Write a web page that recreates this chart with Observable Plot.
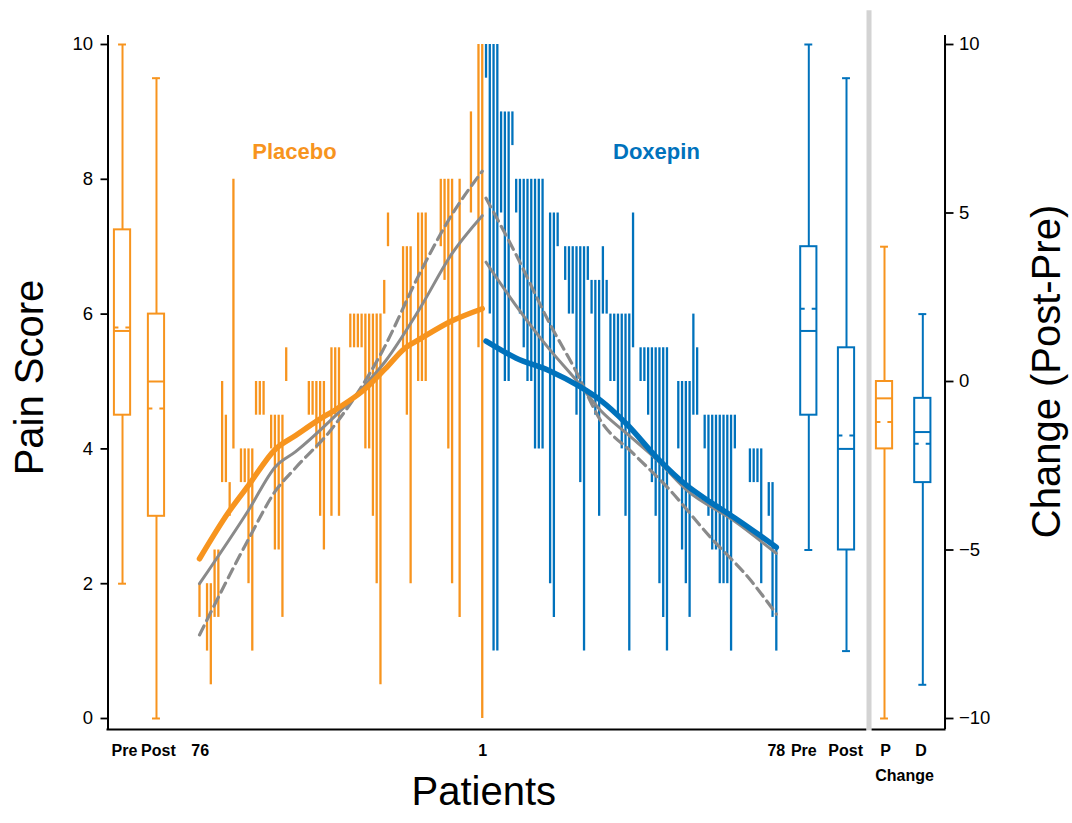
<!DOCTYPE html>
<html><head><meta charset="utf-8">
<script src="https://cdn.jsdelivr.net/npm/d3@7"></script>
<script src="https://cdn.jsdelivr.net/npm/@observablehq/plot@0.6"></script>
<style>body{margin:0;background:#fff;} #chart svg{display:block;}</style>
</head><body><div id="chart"></div>
<script>
// ---------- DATA ----------
// Placebo patients, left to right (patient 76 ... patient 1); higher and lower score of each patient
const placeboHi = [2.0, null, 2.0, 2.0, 2.5, 2.5, 5.0, 4.5, 3.5, 8.0, null, 4.0, 4.0, 4.0, 4.0, 5.0, 5.0, 5.0, null, 4.5,
  4.5, 4.5, 4.5, 5.5, null, null, null, null, null, 5.0, 5.0, 5.0, 5.0, 5.0, null, 5.5, 5.5, 5.5, null, null,
  6.0, 6.0, 6.0, 6.0, 6.0, 6.0, 6.0, 6.0, 6.0, 6.5, 7.5, null, null, null, 7.0, 7.0, 7.0, null, 7.5, 7.5,
  7.5, null, null, null, 8.0, 8.0, 8.0, 8.0, null, 8.0, null, null, 9.0, null, 10, 10];
const placeboLo = [1.5, null, 1.0, 0.5, 1.5, 1.5, 3.5, 3.5, 3.0, 4.0, null, 3.5, 3.5, 2.0, 1.0, 4.5, 4.5, 4.5, null, 4.0,
  2.5, 2.5, 1.5, 5.0, null, null, null, null, null, 4.5, 4.5, 4.0, 3.0, 2.5, null, 3.0, 4.5, 3.0, null, null,
  5.5, 5.5, 5.5, 5.5, 4.0, 4.0, 3.0, 2.0, 0.5, 6.0, 7.0, null, null, null, 5.5, 4.5, 2.0, null, 5.0, 5.0,
  5.0, null, null, null, 7.0, 6.5, 4.0, 2.0, null, 1.5, null, null, 7.5, null, 5.5, 0];
// Doxepin patients, left to right (patient 1 ... patient 78)
const doxepinHi = [10, 10, 10, 10, 9.0, 9.0, 9.0, 9.0, 8.0, 8.0, 8.0, 8.0, 8.0, 8.0, 8.0, 8.0, null, 7.5, 7.5, 7.5,
  null, 7.0, 7.0, 7.0, 7.0, 7.0, 7.0, 7.0, 6.5, 6.5, 6.5, 7.0, 6.5, 6.0, 6.0, 6.0, 6.0, 6.0, 6.0, 7.5,
  null, 5.5, 5.5, 5.5, 5.5, 5.5, 5.5, 5.5, 5.5, null, null, 5.0, 5.0, 5.0, 5.0, 6.0, 5.5, null, 4.5, 4.5,
  4.5, 4.5, 4.5, 4.5, 4.5, 4.5, 4.5, null, null, null, 4.0, 4.0, 4.0, 4.0, null, 3.5, 3.5, 2.5];
const doxepinLo = [9.5, 6.0, 1.0, 1.0, 7.5, 5.0, 5.0, 8.5, 7.5, 6.0, 5.5, 5.0, 5.0, 4.0, 4.0, 4.0, null, 2.0, 1.5, 7.0,
  null, 6.5, 6.0, 6.0, 4.5, 3.5, 1.0, 6.5, 6.0, 4.5, 3.0, 6.0, 6.0, 5.0, 5.0, 4.5, 4.0, 3.0, 1.0, 5.5,
  null, 5.0, 5.0, 4.5, 3.5, 3.0, 2.0, 1.5, 1.0, null, null, 4.0, 2.5, 2.0, 1.5, 4.5, 4.5, null, 4.0, 3.0,
  2.5, 2.5, 2.0, 2.0, 2.0, 1.0, 4.0, null, null, null, 3.5, 3.5, 3.5, 2.0, null, 3.0, 1.5, 1.0];

// Fitted curves (patient position within group, score)
const placeboFitPos = [0, 7.7, 13, 20.2, 25.5, 31.3, 36.6, 43.5, 49.3, 54.6, 58.2, 67, 75];
const placeboFitVal = [2.37, 3.06, 3.46, 4.0, 4.2, 4.42, 4.6, 4.87, 5.19, 5.5, 5.62, 5.9, 6.08];
const placeboGrayPos = [0, 13, 20.2, 25.5, 34.7, 43.5, 49.3, 58.2, 67, 75];
const placeboGrayVal = [2.0, 3.09, 3.74, 3.96, 4.42, 4.92, 5.3, 6.06, 6.9, 7.46];
const placeboDashPos = [0, 13, 20.2, 25.5, 34.7, 48.5, 58.2, 67, 75];
const placeboDashVal = [1.24, 2.66, 3.38, 3.72, 4.27, 5.45, 6.58, 7.48, 8.12];
const doxepinFitPos = [0, 7.9, 16.8, 24.7, 30.4, 37.3, 45.5, 53.4, 59.5, 65.6, 72.8, 77];
const doxepinFitVal = [5.6, 5.35, 5.16, 4.93, 4.72, 4.37, 3.86, 3.45, 3.21, 2.99, 2.71, 2.54];
const doxepinGrayPos = [0, 7.9, 16.8, 23.8, 30.4, 37.3, 45.5, 53.4, 65.6, 77];
const doxepinGrayVal = [6.77, 6.13, 5.48, 5.03, 4.57, 4.23, 3.83, 3.38, 2.94, 2.45];
const doxepinDashPos = [0, 7.9, 16.8, 23.8, 30.4, 39.1, 48.1, 59.5, 70.2, 77];
const doxepinDashVal = [7.72, 6.89, 5.87, 5.16, 4.42, 3.93, 3.43, 2.69, 2.05, 1.55];

// Box plot statistics (pain score)
const boxGroups = ["Placebo Pre", "Placebo Post", "Doxepin Pre", "Doxepin Post"];
const boxMin = [2, 0, 2.5, 1];
const boxQ1 = [4.5, 3, 4.5, 2.5];
const boxMed = [5.75, 5, 5.75, 4];
const boxQ3 = [7.25, 6, 7, 5.5];
const boxMax = [10, 9.5, 10, 9.5];
const boxMean = [5.8, 4.6, 6.08, 4.2];
// Box plot statistics (change Post-Pre)
const changeGroups = ["P", "D"];
const changeMin = [-10, -9];
const changeQ1 = [-2, -3];
const changeMed = [-0.5, -1.5];
const changeQ3 = [0, -0.5];
const changeMax = [4, 2];
const changeMean = [-1.2, -1.85];

// Labels
const painTicks = [0, 2, 4, 6, 8, 10];
const changeTicks = [-10, -5, 0, 5, 10];
const groupNames = ["Placebo", "Doxepin"];
const bottomLabels = ["Pre", "Post", "76", "1", "78", "Pre", "Post", "P", "D"];
const changeLabel = ["Change"];
const axisTitles = {y: "Pain Score", y2: "Change (Post-Pre)", x: "Patients"};

// ---------- LAYOUT ----------
const ORANGE = "#F7941E", BLUE = "#0072BC", GRAY = "#8a8a8a";
const SLOT_PX = 3.77, X_START = 199;
const DOX_OFFSET = 76;
const boxPos = [-20.42, -11.41, 161.62, 171.62];
const boxColors = [ORANGE, ORANGE, BLUE, BLUE];
const changePos = [181.7, 191.86];
const changeColors = [ORANGE, BLUE];
const groupColors = [ORANGE, BLUE];
const HW = 2.15, CAP = 1.05;
const X_LEFT = -24.27, X_RIGHT = 197.75, X_DIV = 177.59, X_MAIN_END = 177.0, X_RIGHT_START = 178.4;
const Y_TOP = 10.134, Y_BOT = -0.163;
const chY = c => 5 + c / 2;   // change units -> pain-score units (shared pixel range)
const groupLabelPos = [25.2, 121.2];
const bottomLabelPos = [-19.9, -10.9, 0.2, 75.1, 153, 160.3, 171.4, 182, 191.4];
const changeLabelPos = [187];

// ---------- BUILD ----------
const placebo = placeboHi.map((hi, i) => ({x: i, hi, lo: placeboLo[i]})).filter(d => d.hi != null && d.lo != null);
const doxepin = doxepinHi.map((hi, i) => ({x: DOX_OFFSET + i, hi, lo: doxepinLo[i]})).filter(d => d.hi != null && d.lo != null);
const pts = (pos, val, off = 0) => pos.map((p, i) => ({x: p + off, y: val[i]}));

const boxes = boxGroups.map((g, i) => ({g, x: boxPos[i], color: boxColors[i],
  min: boxMin[i], q1: boxQ1[i], med: boxMed[i], q3: boxQ3[i], max: boxMax[i], mean: boxMean[i]}))
  .concat(changeGroups.map((g, i) => ({g, x: changePos[i], color: changeColors[i],
  min: chY(changeMin[i]), q1: chY(changeQ1[i]), med: chY(changeMed[i]), q3: chY(changeQ3[i]),
  max: chY(changeMax[i]), mean: chY(changeMean[i])})));

const marks = [];
// divider
marks.push(Plot.ruleX([X_DIV], {y1: -0.18, y2: 10.5, stroke: "#d3d3d3", strokeWidth: 5}));
// frame lines
marks.push(Plot.ruleX([X_LEFT], {y1: Y_BOT, y2: Y_TOP, stroke: "black", strokeWidth: 2}));
marks.push(Plot.ruleX([X_RIGHT], {y1: Y_BOT, y2: Y_TOP, stroke: "black", strokeWidth: 2}));
marks.push(Plot.ruleY([Y_BOT], {x1: X_LEFT - 0.27, x2: X_MAIN_END, stroke: "black", strokeWidth: 2}));
marks.push(Plot.ruleY([Y_BOT], {x1: X_RIGHT_START, x2: X_RIGHT + 0.27, stroke: "black", strokeWidth: 2}));

// patient bars
marks.push(Plot.ruleX(placebo, {x: "x", y1: "lo", y2: "hi", stroke: ORANGE, strokeWidth: 2.3}));
marks.push(Plot.ruleX(doxepin, {x: "x", y1: "lo", y2: "hi", stroke: BLUE, strokeWidth: 2.3}));

// gray fits
marks.push(Plot.line(pts(placeboGrayPos, placeboGrayVal), {x: "x", y: "y", stroke: GRAY, strokeWidth: 3, curve: "monotone-x"}));
marks.push(Plot.line(pts(placeboDashPos, placeboDashVal), {x: "x", y: "y", stroke: GRAY, strokeWidth: 3.2, strokeDasharray: "10,6", curve: "monotone-x"}));
marks.push(Plot.line(pts(doxepinGrayPos, doxepinGrayVal, DOX_OFFSET), {x: "x", y: "y", stroke: GRAY, strokeWidth: 3, curve: "monotone-x"}));
marks.push(Plot.line(pts(doxepinDashPos, doxepinDashVal, DOX_OFFSET), {x: "x", y: "y", stroke: GRAY, strokeWidth: 3.2, strokeDasharray: "10,6", curve: "monotone-x"}));
// thick fits
marks.push(Plot.line(pts(placeboFitPos, placeboFitVal), {x: "x", y: "y", stroke: ORANGE, strokeWidth: 5.5, curve: "monotone-x"}));
marks.push(Plot.line(pts(doxepinFitPos, doxepinFitVal, DOX_OFFSET), {x: "x", y: "y", stroke: BLUE, strokeWidth: 5.5, curve: "monotone-x"}));

// box plots
for (const b of boxes) {
  const o = {stroke: b.color, strokeWidth: 2};
  marks.push(Plot.ruleX([b], {x: "x", y1: "min", y2: "q1", ...o}));
  marks.push(Plot.ruleX([b], {x: "x", y1: "q3", y2: "max", ...o}));
  marks.push(Plot.ruleY([b], {y: "min", x1: d => d.x - CAP, x2: d => d.x + CAP, ...o}));
  marks.push(Plot.ruleY([b], {y: "max", x1: d => d.x - CAP, x2: d => d.x + CAP, ...o}));
  marks.push(Plot.rect([b], {x1: d => d.x - HW, x2: d => d.x + HW, y1: "q1", y2: "q3", fill: "none", ...o}));
  marks.push(Plot.ruleY([b], {y: "med", x1: d => d.x - HW, x2: d => d.x + HW, ...o}));
  marks.push(Plot.ruleY([b], {y: "mean", x1: d => d.x - HW, x2: d => d.x + HW, strokeDasharray: "4.5,7", ...o}));
}

// axes
marks.push(Plot.axisY({anchor: "left", ticks: painTicks, tickSize: 7, tickPadding: 8, fontSize: 18.5, strokeWidth: 1.8, label: null, tickFormat: d => String(d)}));
marks.push(Plot.axisY({anchor: "right", ticks: changeTicks.map(chY), tickSize: 8, tickPadding: 6, fontSize: 18.5, strokeWidth: 1.8, label: null,
  tickFormat: v => { const c = Math.round((v - 5) * 2); return c < 0 ? "\u2212" + (-c) : String(c); }}));

// axis titles
marks.push(Plot.text([axisTitles.y], {frameAnchor: "left", dx: -78, dy: -5, rotate: -90, fontSize: 40, textAnchor: "middle"}));
marks.push(Plot.text([axisTitles.y2], {frameAnchor: "right", dx: 102, dy: -11, rotate: -90, fontSize: 40, textAnchor: "middle"}));
marks.push(Plot.text([axisTitles.x], {x: [75.4], frameAnchor: "bottom", dy: 75, fontSize: 40, textAnchor: "middle"}));

// group labels
marks.push(Plot.text(groupNames, {x: groupLabelPos, y: [8.4, 8.4], fill: groupColors, fontWeight: "bold", fontSize: 22}));
// bottom category labels
marks.push(Plot.text(bottomLabels, {x: bottomLabelPos, frameAnchor: "bottom", dy: 26, fontWeight: "bold", fontSize: 16}));
marks.push(Plot.text(changeLabel, {x: changeLabelPos, frameAnchor: "bottom", dy: 51, fontWeight: "bold", fontSize: 16}));

const chart = Plot.plot({
  width: 1072, height: 823,
  marginLeft: 107.5, marginRight: 127.5, marginTop: 35, marginBottom: 94,
  x: {domain: [0, 75], range: [X_START, X_START + 75 * SLOT_PX], axis: null, label: null},
  y: {domain: [0, 10], range: [718, 44], axis: null, label: null},
  color: {type: "identity"},
  style: {fontFamily: "'Liberation Sans', Arial, Helvetica, sans-serif", background: "white", color: "black", overflow: "visible"},
  marks
});
document.getElementById("chart").append(chart);
</script></body></html>
